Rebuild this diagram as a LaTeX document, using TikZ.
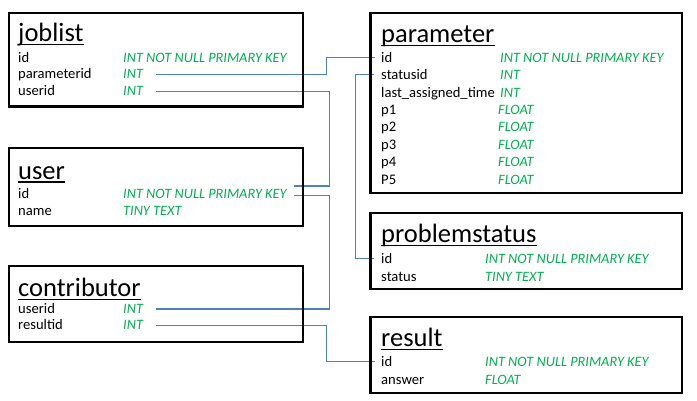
\documentclass[tikz,border=0pt]{standalone}
\usepackage{fontspec}
\setmainfont{Carlito}
\definecolor{typegreen}{RGB}{0,176,80}
\definecolor{linkblue}{RGB}{79,129,189}

\begin{document}
\begin{tikzpicture}
    [
        x=1pt, y=-1pt,
        tablebox/.style={draw, line width=2.6pt,},
        tabletitle/.style={anchor=base west, inner sep=0pt, font=\fontsize{26.5}{26.5}\selectfont,},
        uline/.style={line width=1.4pt,},
        field/.style={anchor=base west, inner sep=0pt, font=\fontsize{14.6}{16}\selectfont,},
        fieldtype/.style={field, text=typegreen, font=\fontsize{14.3}{16}\selectfont\itshape,},
        link/.style={draw=linkblue, line width=1.2pt,},
    ]

    \useasboundingbox (0,0) rectangle (697,401);

    % joblist table
    \node (joblist) at (18,41.7)   [tabletitle] {joblist};
    \node (j-id)    at (18,62.3)   [field] {id};
    \node (j-pid)   at (18,79)     [field] {parameterid};
    \node (j-uid)   at (18,95.7)   [field] {userid};
    \node (j-id-t)  at (123,62.3)  [fieldtype] {INT NOT NULL PRIMARY KEY};
    \node (j-pid-t) at (123,79)    [fieldtype] {INT};
    \node (j-uid-t) at (123,95.7)  [fieldtype] {INT};

    % user table
    \node (user)    at (18,179.3)  [tabletitle] {user};
    \node (u-id)    at (18,198.3)  [field] {id};
    \node (u-name)  at (18,215.3)  [field] {name};
    \node (u-id-t)  at (123,198.3) [fieldtype] {INT NOT NULL PRIMARY KEY};
    \node (u-name-t) at (123,215.3) [fieldtype] {TINY TEXT};

    % contributor table
    \node (contrib) at (18,296.7)  [tabletitle] {contributor};
    \node (c-uid)   at (18,313.5)  [field] {userid};
    \node (c-rid)   at (18,330)    [field] {resultid};
    \node (c-uid-t) at (123,313.5) [fieldtype] {INT};
    \node (c-rid-t) at (123,330)   [fieldtype] {INT};

    % parameter table
    \node (param)   at (381,43)    [tabletitle] {parameter};
    \node (p-id)    at (381,62.3)  [field] {id};
    \node (p-sid)   at (381,79.7)  [field] {statusid};
    \node (p-lat)   at (381,97.1)  [field] {last\_assigned\_time};
    \node (p-p1)    at (381,114.5) [field] {p1};
    \node (p-p2)    at (381,131.9) [field] {p2};
    \node (p-p3)    at (381,149.3) [field] {p3};
    \node (p-p4)    at (381,166.7) [field] {p4};
    \node (p-p5)    at (381,184.1) [field] {P5};
    \node (p-id-t)  at (500,62.3)  [fieldtype] {INT NOT NULL PRIMARY KEY};
    \node (p-sid-t) at (500,79.7)  [fieldtype] {INT};
    \node (p-lat-t) at (500,97.1)  [fieldtype] {INT};
    \node (p-p1-t)  at (498,114.5) [fieldtype] {FLOAT};
    \node (p-p2-t)  at (498,131.9) [fieldtype] {FLOAT};
    \node (p-p3-t)  at (498,149.3) [fieldtype] {FLOAT};
    \node (p-p4-t)  at (498,166.7) [fieldtype] {FLOAT};
    \node (p-p5-t)  at (498,184.1) [fieldtype] {FLOAT};

    % problemstatus table
    \node (pstatus) at (381,242.7) [tabletitle] {problemstatus};
    \node (ps-id)   at (381,263.5) [field] {id};
    \node (ps-st)   at (381,281)   [field] {status};
    \node (ps-id-t) at (485,263.5) [fieldtype] {INT NOT NULL PRIMARY KEY};
    \node (ps-st-t) at (485,281)   [fieldtype] {TINY TEXT};

    % result table
    \node (result)  at (381,346.7) [tabletitle] {result};
    \node (r-id)    at (381,366.7) [field] {id};
    \node (r-ans)   at (381,384)   [field] {answer};
    \node (r-id-t)  at (485,366.7) [fieldtype] {INT NOT NULL PRIMARY KEY};
    \node (r-ans-t) at (485,384)   [fieldtype] {FLOAT};

    % title underlines
    \foreach \t in {joblist, user, contrib, param, pstatus, result}
        \draw [uline] ([yshift=-2.6pt]\t.base west) -- ([yshift=-2.6pt]\t.base east);

    % foreign keys
    \coordinate (bus1) at (326.7,0);
    \coordinate (bus2) at (329.7,0);
    \coordinate (bus3) at (355.5,0);
    \coordinate (u-in)  at ([yshift=7.8pt]u-id-t.east);
    \coordinate (u-out) at ([yshift=-1.5pt]u-id-t.east);
    \draw [link, shorten <=13pt, shorten >=6.5pt] (j-pid-t.east) -| (bus1 |- p-id.west) -- (p-id.west);
    \draw [link, shorten <=13pt, shorten >=7pt] (j-uid-t.east) -| (bus2 |- u-in) -- (u-in);
    \draw [link, shorten <=7pt, shorten >=13pt] (u-out) -| (bus2 |- c-uid-t.east) -- (c-uid-t.east);
    \draw [link, shorten <=13pt, shorten >=6.5pt] (c-rid-t.east) -| (bus1 |- r-id.west) -- (r-id.west);
    \draw [link, shorten <=7.5pt, shorten >=7.5pt] (p-sid.west) -| (bus3 |- ps-id.west) -- (ps-id.west);

    % table frames
    \draw [tablebox] (9,13)      rectangle (303,106.5);
    \draw [tablebox] (9,148)     rectangle (303,226);
    \draw [tablebox] (9,266)     rectangle (303,342);
    \draw [tablebox] (370.5,13)  rectangle (682,193);
    \draw [tablebox] (370.5,213) rectangle (682,289);
    \draw [tablebox] (370.5,317) rectangle (682,393);
\end{tikzpicture}
\end{document}
